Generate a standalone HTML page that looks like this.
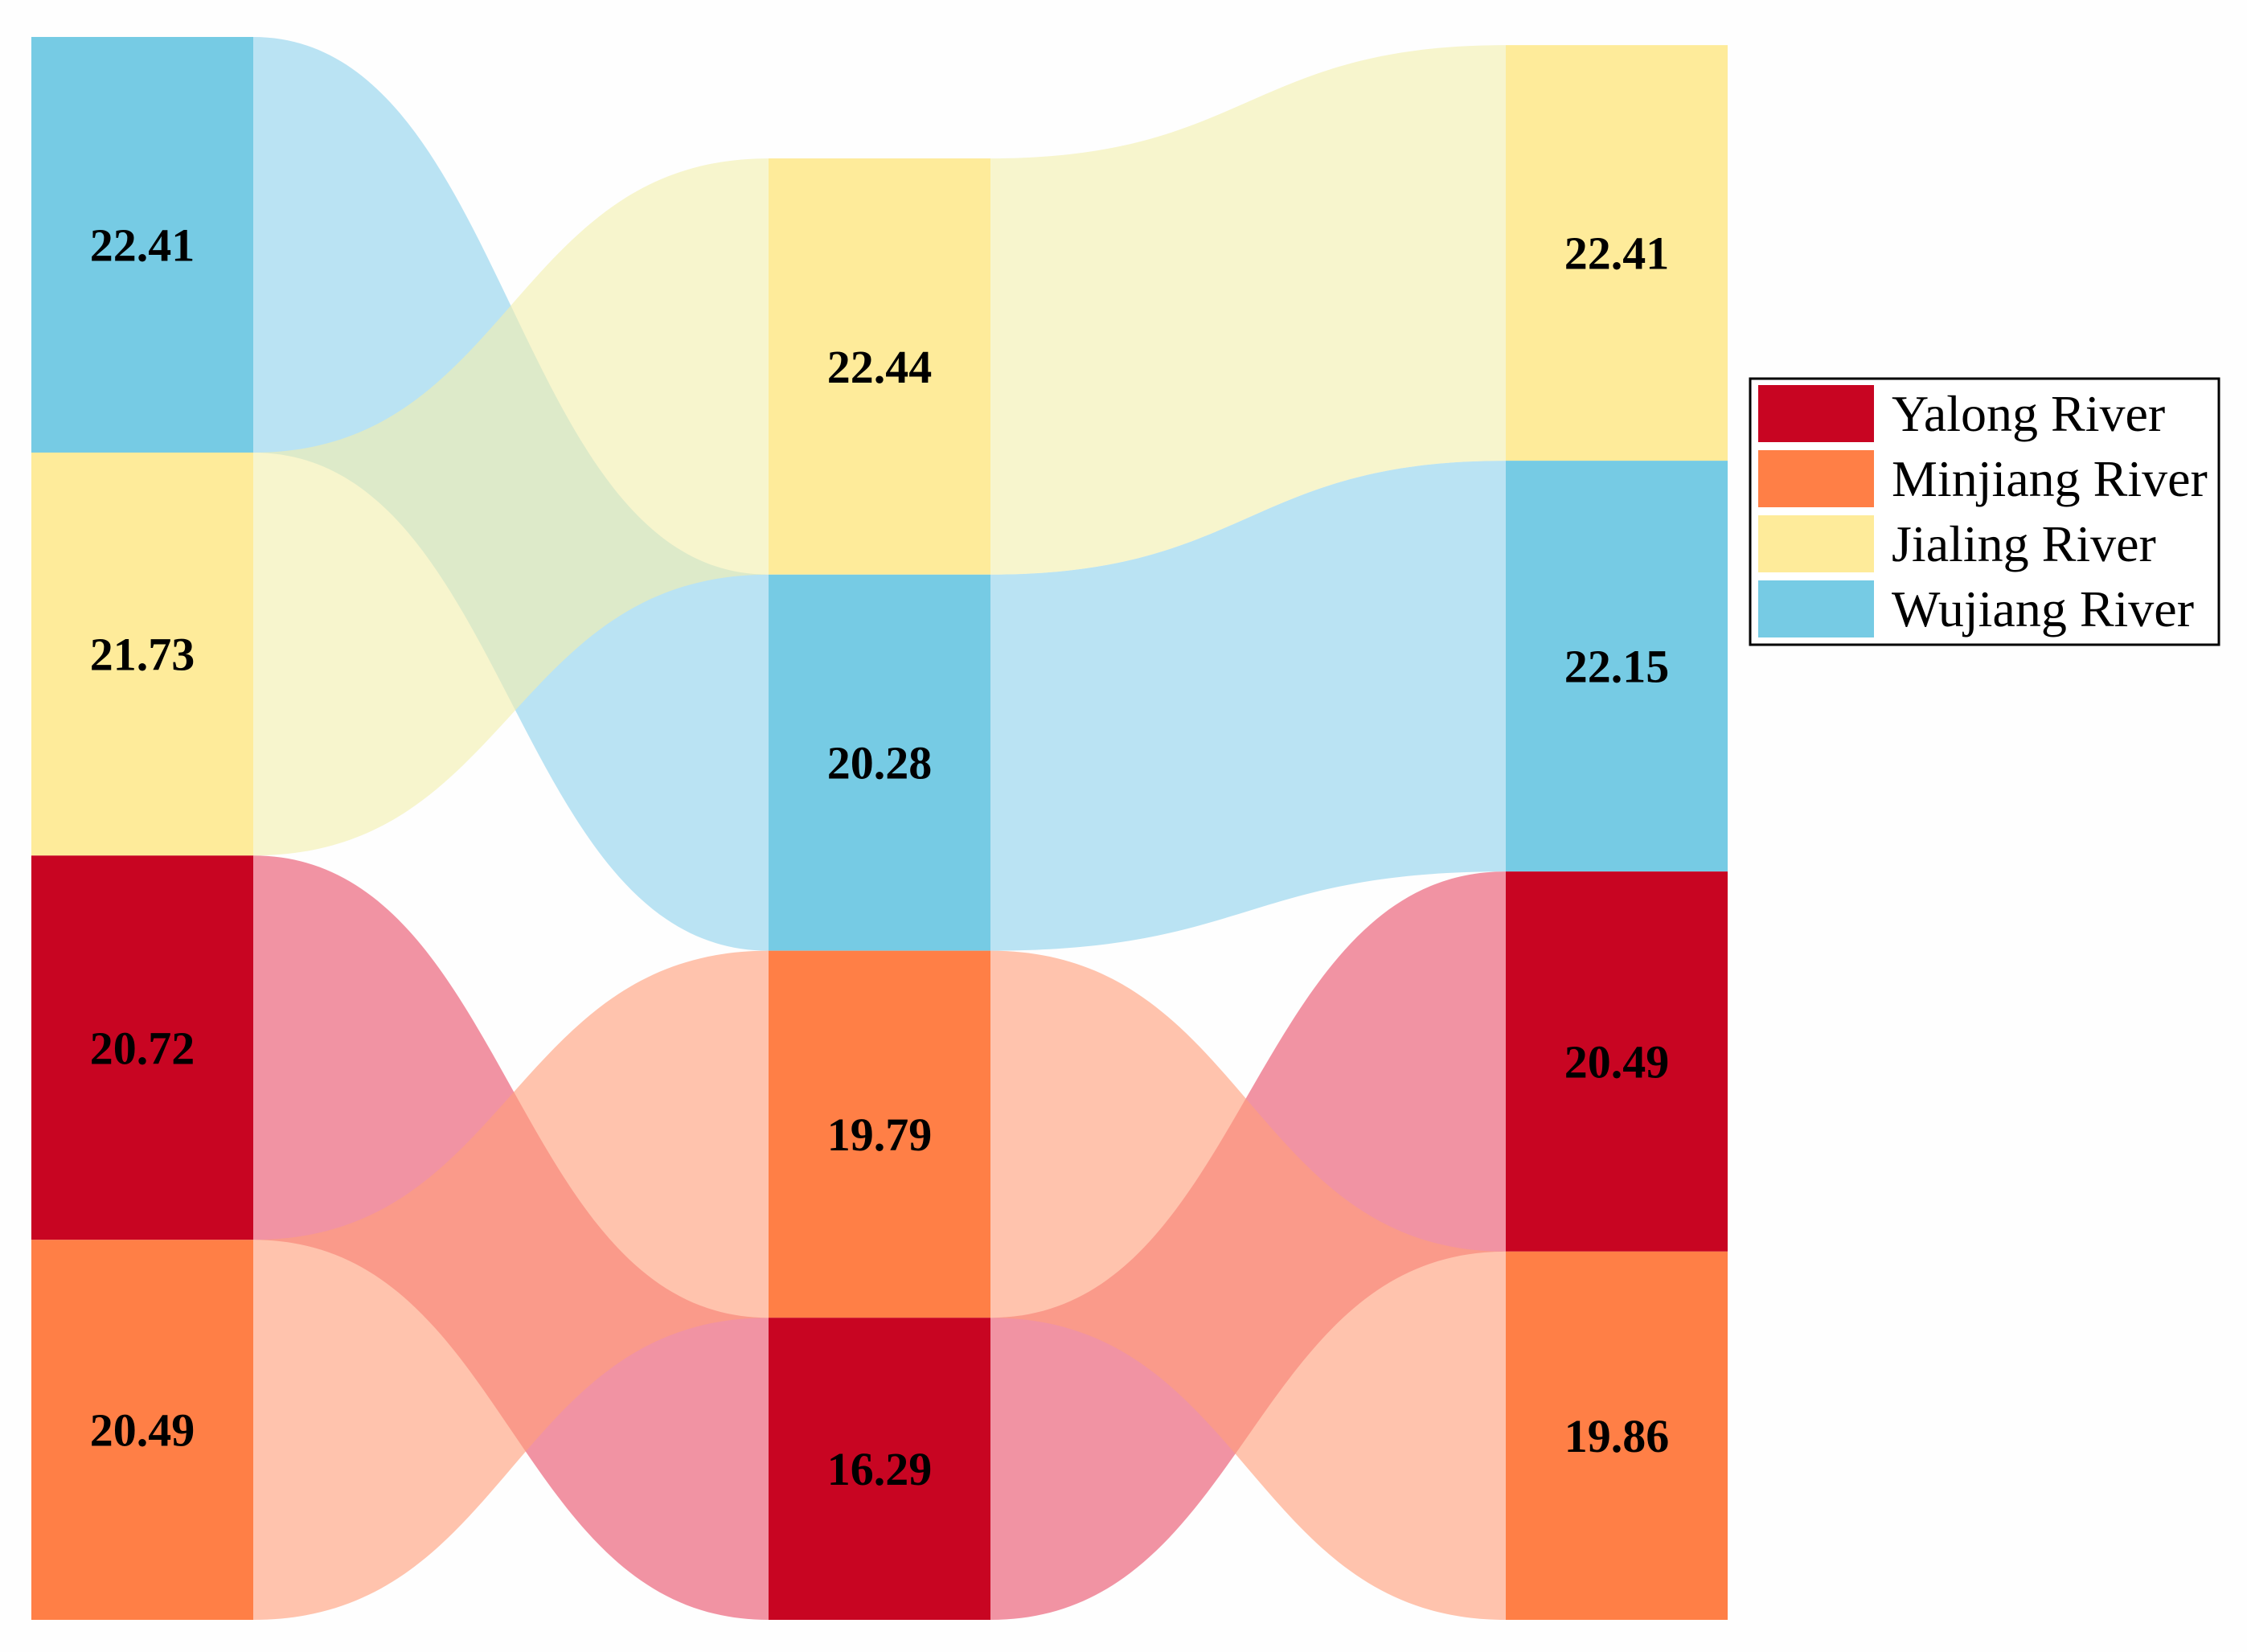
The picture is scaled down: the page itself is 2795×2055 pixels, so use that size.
<!DOCTYPE html>
<html><head><meta charset="utf-8"><style>
html,body{margin:0;padding:0;background:#fefefe;}
svg{display:block;}
text{font-family:"Liberation Serif",serif;}
</style></head><body>
<svg id="chart" width="2795" height="2055" viewBox="0 0 2795 2055" xmlns="http://www.w3.org/2000/svg">
<g id="links"></g>
<g id="nodes"></g>
<g id="legend"></g>
</svg>
<script>
const rivers = ["Wujiang River","Jialing River","Yalong River","Minjiang River"];
const col1Order = ["Wujiang River","Jialing River","Yalong River","Minjiang River"];
const col1Values = [22.41,21.73,20.72,20.49];
const col2Order = ["Jialing River","Wujiang River","Minjiang River","Yalong River"];
const col2Values = [22.44,20.28,19.79,16.29];
const col3Order = ["Jialing River","Wujiang River","Yalong River","Minjiang River"];
const col3Values = [22.41,22.15,20.49,19.86];
const legendOrder = ["Yalong River","Minjiang River","Jialing River","Wujiang River"];

const nodeColor = {"Yalong River":"#c80522","Minjiang River":"#ff7f46","Jialing River":"#feeb9a","Wujiang River":"#76cbe4"};
const linkColor = {"Yalong River":"#e8506b","Minjiang River":"#ff9e7a","Jialing River":"#f2efae","Wujiang River":"#90d2ec"};
const NS="http://www.w3.org/2000/svg";
const bottom=2015, unit=23.07;
const colX=[39,956,1873], nodeW=276;
const cols=[[col1Order,col1Values],[col2Order,col2Values],[col3Order,col3Values]];
function layout(order,vals){
  const total=vals.reduce((a,b)=>a+b,0);
  let y=bottom-total*unit; const m={};
  order.forEach((r,i)=>{const h=vals[i]*unit; m[r]={y0:y,y1:y+h,v:vals[i]}; y+=h;});
  return m;
}
const lays=cols.map(c=>layout(c[0],c[1]));
const linksG=document.getElementById('links');
for(let c=0;c<2;c++){
  const x0=colX[c]+nodeW, x1=colX[c+1], xm=(x0+x1)/2;
  rivers.forEach(r=>{
    const a=lays[c][r], b=lays[c+1][r];
    const p=document.createElementNS(NS,'path');
    p.setAttribute('d',`M${x0},${a.y0} C${xm},${a.y0} ${xm},${b.y0} ${x1},${b.y0} L${x1},${b.y1} C${xm},${b.y1} ${xm},${a.y1} ${x0},${a.y1} Z`);
    p.setAttribute('fill',linkColor[r]);
    p.setAttribute('fill-opacity','0.62');
    
    
    linksG.appendChild(p);
  });
}
const nodesG=document.getElementById('nodes');
cols.forEach((c,ci)=>{
  c[0].forEach((r,i)=>{
    const n=lays[ci][r];
    const rect=document.createElementNS(NS,'rect');
    rect.setAttribute('x',colX[ci]);rect.setAttribute('y',n.y0);
    rect.setAttribute('width',nodeW);rect.setAttribute('height',n.y1-n.y0);
    rect.setAttribute('fill',nodeColor[r]);
    
    
    nodesG.appendChild(rect);
    const t=document.createElementNS(NS,'text');
    t.setAttribute('x',colX[ci]+nodeW/2);t.setAttribute('y',(n.y0+n.y1)/2+20);
    t.setAttribute('text-anchor','middle');t.setAttribute('font-size','58');t.setAttribute('font-weight','bold');
    t.textContent=c[1][i].toFixed(2);
    
    
    nodesG.appendChild(t);
  });
});
const lg=document.getElementById('legend');
const box=document.createElementNS(NS,'rect');
box.setAttribute('x',2177);box.setAttribute('y',471);box.setAttribute('width',583);box.setAttribute('height',331);
box.setAttribute('fill','#fff');box.setAttribute('stroke','#000');box.setAttribute('stroke-width','3');


lg.appendChild(box);
legendOrder.forEach((r,i)=>{
  const y=479+i*81;
  const s=document.createElementNS(NS,'rect');
  s.setAttribute('x',2187);s.setAttribute('y',y);s.setAttribute('width',144);s.setAttribute('height',71);
  s.setAttribute('fill',nodeColor[r]);
  
  
  lg.appendChild(s);
  const t=document.createElementNS(NS,'text');
  t.setAttribute('x',2353);t.setAttribute('y',y+57);t.setAttribute('font-size','64');
  t.textContent=r;
  
  
  lg.appendChild(t);
});
</script>
</body></html>
